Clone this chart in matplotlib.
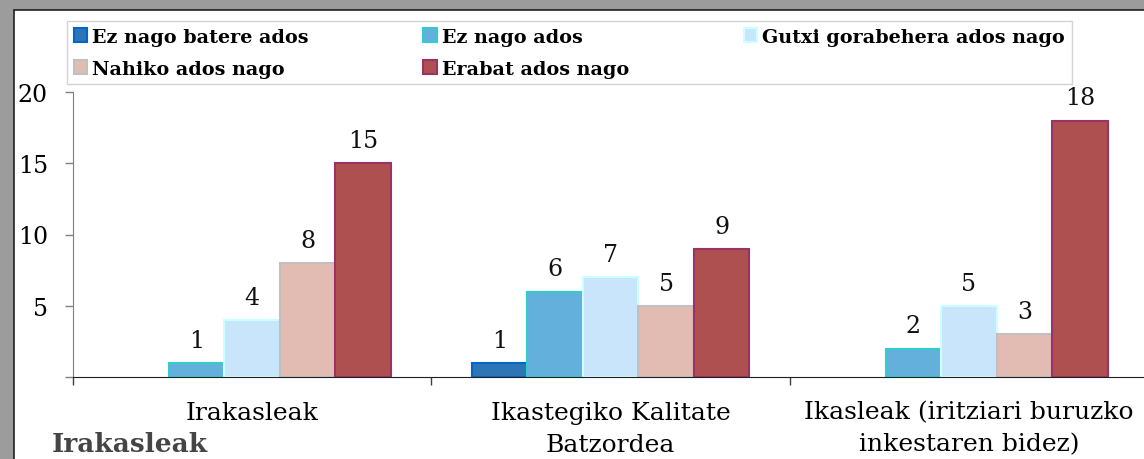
import matplotlib.pyplot as plt
import matplotlib.patches as mpatches
import numpy as np

categories = ['Irakasleak', 'Ikastegiko Kalitate\nBatzordea', 'Ikasleak (iritziari buruzko\ninkestaren bidez)']
series_names = ['Ez nago batere ados', 'Ez nago ados', 'Gutxi gorabehera ados nago',
                'Nahiko ados nago', 'Erabat ados nago']
values = [
    [0, 1, 0],    # Ez nago batere ados
    [1, 6, 2],    # Ez nago ados
    [4, 7, 5],    # Gutxi gorabehera ados nago
    [8, 5, 3],    # Nahiko ados nago
    [15, 9, 18],  # Erabat ados nago
]
face_colors = ['#2E75B6', '#63B0DD', '#C9E5FB', '#E2BCB3', '#AE5050']
edge_colors = ['#0066CC', '#33CCCC', '#CCFFFF', '#C0C0C0', '#993366']
y_ticks = [0, 5, 10, 15, 20]
title = 'Irakasleak'

plt.rcParams['font.family'] = ['DejaVu Serif']

W, H = 1144, 460
fig = plt.figure(figsize=(W / 100, H / 100), dpi=100)

# grey screenshot frame
fig.patches.append(mpatches.Rectangle((0, 0), 1, 1, transform=fig.transFigure,
                                      facecolor='#9C9C9C', edgecolor='none', zorder=-10))
fig.patches.append(mpatches.Rectangle((14 / W, -0.1), 1, 1 - 11 / H + 0.1, transform=fig.transFigure,
                                      facecolor='white', edgecolor='#202020', linewidth=1.2, zorder=-9))

ax = fig.add_axes([73 / W, 1 - 378 / H, 1075 / W, 285 / H])
ax.patch.set_alpha(0)

x = np.arange(len(categories))
bw = 0.155
bars = []
for i, vals in enumerate(values):
    vals = np.array(vals)
    pos = x + (i - 2) * bw
    keep = vals > 0
    b = ax.bar(pos[keep], vals[keep], width=bw, color=face_colors[i], edgecolor=edge_colors[i],
               linewidth=1.5, label=series_names[i])
    bars.append(b)
    for p, v in zip(pos[keep], vals[keep]):
        ax.annotate(str(v), (p, v), xytext=(0, 8), textcoords='offset points',
                    ha='center', va='bottom', fontsize=17, color='#111111')

ax.set_xlim(-0.5, 2.5)
ax.set_ylim(0, 20)
ax.set_yticks(y_ticks)
ax.set_yticklabels(['' if t == 0 else str(t) for t in y_ticks])
ax.tick_params(axis='y', length=6, width=1, color='#808080', pad=12, labelsize=17)

ax.set_xticks([-0.5, 0.5, 1.5, 2.5])
ax.set_xticklabels([])
ax.set_xticks(x, minor=True)
ax.set_xticklabels(categories, minor=True, fontsize=18, linespacing=1.5)
ax.tick_params(axis='x', which='major', length=6, width=1, color='#404040', direction='out')
ax.tick_params(axis='x', which='minor', length=0, pad=17)

for s in ['top', 'right']:
    ax.spines[s].set_visible(False)
ax.spines['left'].set_color('#808080')
ax.spines['bottom'].set_color('#202020')

# legend in row-major order
order = [0, 3, 1, 4, 2]
leg = fig.legend([bars[i] for i in order], [series_names[i] for i in order],
                 ncol=3, loc='upper left', bbox_to_anchor=(67 / W, 1 - 22 / H),
                 prop={'weight': 'bold', 'size': 13.8}, frameon=True, fancybox=False,
                 handlelength=0.7, handleheight=0.7, handletextpad=0.25,
                 columnspacing=6.0, borderaxespad=0, borderpad=0.35, labelspacing=0.72)
leg.get_frame().set_edgecolor('#C8C8C8')
leg.get_frame().set_linewidth(1)

fig.text(52 / W, 1 - 445 / H, title, fontsize=19, fontweight='bold', color='#454545',
         va='center', ha='left')

fig.savefig('out.png', dpi=100)
